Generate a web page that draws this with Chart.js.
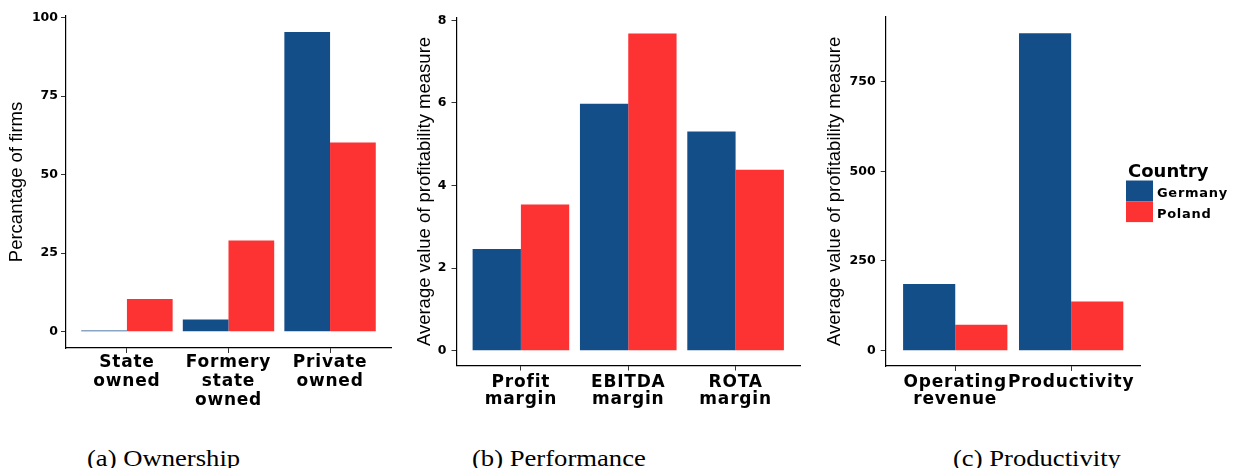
<!DOCTYPE html>
<html>
<head>
<meta charset="utf-8">
<script src="https://cdn.jsdelivr.net/npm/chart.js@4.4.1/dist/chart.umd.min.js"></script>
<style>
  html, body { margin: 0; padding: 0; background: #fff; }
  body { width: 1233px; height: 468px; position: relative; overflow: hidden; }
  canvas { position: absolute; top: 0; }
  .cap {
    position: absolute; top: 446px;
    font-family: "Liberation Serif", "Times New Roman", serif;
    font-size: 24px; line-height: 24px; color: #000; white-space: nowrap;
    transform: scaleX(1.11); transform-origin: 0 0;
  }
</style>
</head>
<body>
<canvas id="ownership" width="400" height="425" style="left:0px"></canvas>
<canvas id="performance" width="420" height="425" style="left:400px"></canvas>
<canvas id="productivity" width="413" height="425" style="left:820px"></canvas>
<div class="cap" style="left:87px">(a) Ownership</div>
<div class="cap" style="left:472px">(b) Performance</div>
<div class="cap" style="left:953px">(c) Productivity</div>

<script>
// ---- data ----
const countries = ['Germany', 'Poland'];
const countryColors = ['#144E89', '#FC3233'];
const legendTitle = 'Country';

const ownershipCategories = [['State', 'owned'], ['Formery', 'state', 'owned'], ['Private', 'owned']];
const ownershipGermany = [0.4, 3.9, 95.4];
const ownershipPoland = [10.4, 29.0, 60.2];
const ownershipTicks = [0, 25, 50, 75, 100];

const performanceCategories = [['Profit', 'margin'], ['EBITDA', 'margin'], ['ROTA', 'margin']];
const performanceGermany = [2.46, 5.98, 5.31];
const performancePoland = [3.54, 7.68, 4.38];
const performanceTicks = [0, 2, 4, 6, 8];

const productivityCategories = [['Operating', 'revenue'], ['Productivity']];
const productivityGermany = [186, 885];
const productivityPoland = [72, 137];
const productivityTicks = [0, 250, 500, 750];

// ---- plugins ----
// Wider letter spacing for the category labels; reset before the y axis (drawn above datasets).
const tickSpacing = {
  id: 'tickSpacing',
  beforeDraw(chart) { chart.ctx.letterSpacing = '0.8px'; },
  afterDatasetsDraw(chart) { chart.ctx.letterSpacing = '0px'; }
};

// Stacked-key legend built from the chart's datasets.
const countryLegend = {
  id: 'countryLegend',
  afterDraw(chart, args, opts) {
    const ctx = chart.ctx;
    ctx.save();
    ctx.letterSpacing = '0px';
    ctx.textAlign = 'left';
    ctx.textBaseline = 'alphabetic';
    ctx.fillStyle = '#000';
    ctx.font = 'bold 18px "DejaVu Sans"';
    ctx.fillText(opts.title, opts.x + 2, opts.titleBaseline);
    chart.data.datasets.forEach((ds, i) => {
      const top = opts.boxTop + i * opts.boxHeight;
      ctx.fillStyle = ds.backgroundColor;
      ctx.fillRect(opts.x, top, opts.boxWidth, opts.boxHeight);
      ctx.fillStyle = '#000';
      ctx.font = 'bold 13px "DejaVu Sans"';
      ctx.letterSpacing = '0.7px';
      ctx.fillText(ds.label, opts.x + opts.boxWidth + 4, top + opts.boxHeight / 2 + 6);
      ctx.letterSpacing = '0px';
    });
    ctx.restore();
  }
};

function makePanel(id, categories, series, yTicks, yMin, yMax, yTitle, g, legend) {
  const canvas = document.getElementById(id);
  const W = canvas.width, H = canvas.height;
  const plugins = [tickSpacing];
  if (legend) plugins.push(countryLegend);

  return new Chart(canvas, {
    type: 'bar',
    data: {
      datasets: series.map((values, k) => ({
        label: countries[k],
        backgroundColor: countryColors[k],
        borderWidth: 0,
        data: values.map((v, i) => ({ x: i + 1, y: v })),
        categoryPercentage: 0.9,
        barPercentage: 1.0
      }))
    },
    options: {
      responsive: false,
      animation: false,
      events: [],
      layout: { padding: { left: 0, top: g.plotTop, right: W - g.plotRight, bottom: 0 } },
      plugins: {
        legend: { display: false },
        tooltip: { enabled: false },
        countryLegend: legend || {}
      },
      scales: {
        x: {
          type: 'linear',
          offset: false,
          min: 0.4,
          max: categories.length + 0.6,
          afterBuildTicks: s => { s.ticks = categories.map((c, i) => ({ value: i + 1 })); },
          afterFit: s => { s.height = H - g.plotBottom; },
          ticks: {
            callback: (v, i) => categories[i],
            autoSkip: false, maxRotation: 0, minRotation: 0,
            padding: g.labelPad,
            color: '#000',
            font: { family: 'DejaVu Sans', weight: 'bold', size: 17, lineHeight: g.lineHeight + 'px' }
          },
          grid: { display: true, offset: false, drawOnChartArea: false, drawTicks: true, tickLength: 5, color: '#333', lineWidth: 1 },
          border: { display: true, color: '#000', width: 1.2 }
        },
        y: {
          type: 'linear',
          min: yMin,
          max: yMax,
          afterBuildTicks: s => { s.ticks = yTicks.map(v => ({ value: v })); },
          afterFit: s => { s.width = g.axisLeft; },
          ticks: {
            padding: g.tickPad,
            color: '#000',
            z: 1,
            font: { family: 'DejaVu Sans', weight: 'bold', size: 12.5 }
          },
          grid: { display: true, drawOnChartArea: false, drawTicks: true, tickLength: 5, color: '#333', lineWidth: 1, z: 1 },
          border: { display: true, color: '#000', width: 1.2, z: 1 },
          title: {
            display: true,
            text: yTitle,
            color: '#000',
            font: { family: 'Liberation Sans', size: 18.5, lineHeight: 1 },
            padding: { top: g.titleMid - 9.25, bottom: 0 }
          }
        }
      }
    },
    plugins
  });
}

makePanel('ownership', ownershipCategories, [ownershipGermany, ownershipPoland], ownershipTicks,
  -5.2, 100.5, 'Percantage of firms',
  { axisLeft: 66, plotRight: 391, plotTop: 16, plotBottom: 348, titleMid: 16.5, tickPad: 3, labelPad: 0, lineHeight: 19 });

makePanel('performance', performanceCategories, [performanceGermany, performancePoland], performanceTicks,
  -0.36, 8.07, 'Average value of profitability measure',
  { axisLeft: 56.5, plotRight: 400, plotTop: 17.5, plotBottom: 365.5, titleMid: 24.5, tickPad: 5, labelPad: 3, lineHeight: 17.7 });

makePanel('productivity', productivityCategories, [productivityGermany, productivityPoland], productivityTicks,
  -42.7, 931, 'Average value of profitability measure',
  { axisLeft: 65.7, plotRight: 320.7, plotTop: 16.7, plotBottom: 366, titleMid: 14.5, tickPad: 5, labelPad: 2.5, lineHeight: 17.7 },
  { title: legendTitle, x: 306, titleBaseline: 177, boxTop: 180.5, boxWidth: 27, boxHeight: 20.8 });
</script>
</body>
</html>
